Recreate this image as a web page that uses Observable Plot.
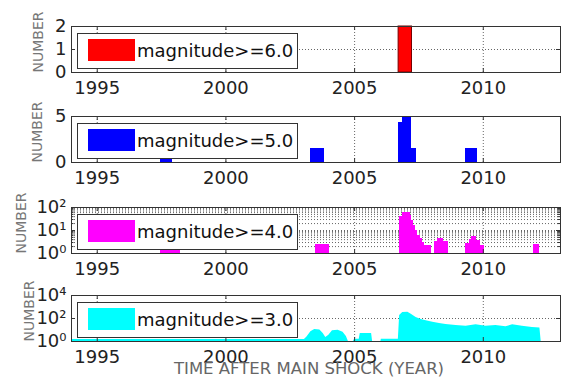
<!DOCTYPE html>
<html><head><meta charset="utf-8">
<script src="https://cdn.jsdelivr.net/npm/d3@7"></script>
<script src="https://cdn.jsdelivr.net/npm/@observablehq/plot@0.6"></script>
<style>
html,body{margin:0;padding:0;background:#fff;}
#chart{position:relative;width:568px;height:378px;overflow:hidden;background:#fff;font-family:"DejaVu Sans",sans-serif;}
.panel{position:absolute;left:0;width:568px;}
.panel svg{position:absolute;left:0;top:0;overflow:visible;}
.legend{position:absolute;left:77px;width:221px;height:36px;background:#fff;border:1px solid #333;box-sizing:border-box;}
.swatch{position:absolute;left:10px;top:5px;width:47px;height:22px;}
.ltext{position:absolute;left:59px;top:8px;font-size:18px;line-height:1;color:#111;white-space:nowrap;}
.ylabel{position:absolute;font-size:14px;line-height:1;color:#777;white-space:nowrap;transform:translate(-50%,-50%) rotate(-90deg);}
.xtitle{position:absolute;left:309px;top:361px;font-size:16.5px;line-height:1;color:#666;white-space:nowrap;transform:translateX(-50%);}
</style>
</head><body>
<div id="chart"></div>
<script>
// ---- axes ----
const xDomain = [1994, 2013];
const xTicks = [1995, 2000, 2005, 2010];
const logTickValues = [1, 10, 100, 10000];
const logTickLabels = ["10⁰", "10¹", "10²", "10⁴"];

// ---- magnitude >= 6.0 (bars: start year, end year, number) ----
const m6Start = [2006.71];
const m6End   = [2007.23];
const m6Count = [2];

// ---- magnitude >= 5.0 ----
const m5Start = [1997.46, 2003.30, 2006.71, 2006.87, 2007.23, 2009.29];
const m5End   = [1997.94, 2003.82, 2006.87, 2007.23, 2007.39, 2009.78];
const m5Count = [1.5, 1.5, 4.3, 5, 1.5, 1.5];

// ---- magnitude >= 4.0 ----
const m4Start = [1997.46, 2003.49, 2006.75, 2006.87, 2007.16, 2007.22, 2007.29, 2007.37, 2007.46, 2007.56, 2007.65, 2007.72,
                 2008.10, 2008.22, 2008.45, 2009.29, 2009.46, 2009.56, 2009.74, 2009.91, 2011.97];
const m4End   = [1998.25, 2004.01, 2006.87, 2007.16, 2007.22, 2007.29, 2007.37, 2007.46, 2007.56, 2007.65, 2007.72, 2007.97,
                 2008.22, 2008.45, 2008.66, 2009.46, 2009.56, 2009.74, 2009.91, 2010.04, 2012.20];
const m4Count = [2, 2.5, 39, 59, 46, 28, 17, 10, 6.2, 4.5, 2.9, 2.3,
                 3.2, 4.5, 3.2, 2.7, 4, 5.6, 3.8, 2.3, 2.5];

// ---- magnitude >= 3.0 (time, number) ----
const m3Time  = [1994.00, 2003.05, 2003.15, 2003.30, 2003.45, 2003.65, 2003.78, 2003.88, 2004.00, 2004.14, 2004.36, 2004.55,
                 2004.68, 2004.76, 2004.95, 2005.00, 2005.18, 2005.22, 2005.66, 2005.70, 2006.02, 2006.04, 2006.70, 2006.75,
                 2006.87, 2007.07, 2007.20, 2007.39, 2007.59, 2007.78, 2008.04, 2008.30, 2008.55, 2008.94, 2009.33, 2009.72,
                 2010.10, 2010.49, 2010.88, 2011.14, 2011.52, 2011.91, 2012.20, 2012.25];
const m3Count = [1.5, 1.5, 2.5, 7, 11, 10, 5, 2.2, 3.5, 8.5, 9.5, 6.5,
                 2.7, 1, 1, 1.6, 1.6, 5, 5, 1, 1, 1.6, 1.6, 180,
                 330, 350, 240, 122, 82, 63, 48, 37, 30, 25, 21, 28,
                 21, 25, 19, 28, 21, 16.5, 15, 1];

const legendLabels = ["magnitude>=6.0", "magnitude>=5.0", "magnitude>=4.0", "magnitude>=3.0"];
const seriesColors = ["#ff0000", "#0000ff", "#ff00ff", "#00ffff"];
const yLabel = "NUMBER";
const xLabel = "TIME AFTER MAIN SHOCK (YEAR)";

const bars = (s, e, c) => s.map((d, i) => ({a: s[i], b: e[i], n: c[i]}));
const pts = (t, c) => t.map((d, i) => ({t: t[i], n: c[i]}));

const chart = document.getElementById("chart");
const H = 46, MT = 14, MB = 30, ML = 71, MR = 8, W = 568;
const innerW = W - ML - MR;
const dot = {stroke: "#666", strokeDasharray: "1,2", strokeWidth: 1};
const axisStroke = "#333";

function panel(top, cfg, idx, ylabelX) {
  const yTicks = cfg.yTicks;
  const marks = [
    Plot.ruleY(cfg.gridY, dot),
    Plot.ruleX(xTicks, dot),
    ...cfg.data,
    Plot.tickX(xTicks, {x: d => d, insetTop: H - 4, stroke: axisStroke}),
    Plot.tickX(xTicks, {x: d => d, insetBottom: H - 4, stroke: axisStroke}),
    Plot.tickY(yTicks, {y: d => d, insetRight: innerW - 4, stroke: axisStroke}),
    Plot.tickY(yTicks, {y: d => d, insetLeft: innerW - 4, stroke: axisStroke}),
  ];
  if (cfg.minorY) {
    marks.push(Plot.tickY(cfg.minorY, {y: d => d, insetRight: innerW - 2.5, stroke: axisStroke}));
    marks.push(Plot.tickY(cfg.minorY, {y: d => d, insetLeft: innerW - 2.5, stroke: axisStroke}));
  }
  marks.push(Plot.frame({stroke: axisStroke}));
  const svg = Plot.plot({
    width: W, height: H + MT + MB,
    marginLeft: ML, marginRight: MR, marginTop: MT, marginBottom: MB,
    style: {fontFamily: "DejaVu Sans, sans-serif", fontSize: "18px", color: "#222", background: "transparent", overflow: "visible"},
    x: {domain: xDomain, ticks: xTicks, tickFormat: d => String(d), tickSize: 0, tickPadding: 9, label: null},
    y: {type: cfg.yType, domain: cfg.yDomain, ticks: yTicks, tickFormat: cfg.tickFormat, tickSize: 0, tickPadding: 5, label: null},
    marks
  });
  const div = document.createElement("div");
  div.className = "panel";
  div.style.top = (top - MT) + "px";
  div.style.height = (H + MT + MB) + "px";
  div.appendChild(svg);
  const lg = document.createElement("div");
  lg.className = "legend";
  lg.style.top = (MT + 7) + "px";
  const sw = document.createElement("div");
  sw.className = "swatch";
  sw.style.background = seriesColors[idx];
  const tx = document.createElement("div");
  tx.className = "ltext";
  tx.textContent = legendLabels[idx];
  lg.appendChild(sw); lg.appendChild(tx);
  div.appendChild(lg);
  chart.appendChild(div);
  const yl = document.createElement("div");
  yl.className = "ylabel";
  yl.textContent = yLabel;
  yl.style.left = ylabelX + "px";
  yl.style.top = (top + H / 2 - 7) + "px";
  chart.appendChild(yl);
}

const logFmt = d => logTickLabels[logTickValues.indexOf(d)];
const minor4 = [2,3,4,5,6,7,8,9,20,30,40,50,60,70,80,90];

panel(26, {
  yType: "linear", yDomain: [0, 2], yTicks: [0, 1, 2], gridY: [1], tickFormat: d => String(d),
  data: [Plot.rect(bars(m6Start, m6End, m6Count), {x1: "a", x2: "b", y1: 0, y2: "n", fill: seriesColors[0], stroke: "#700", strokeWidth: 1})]
}, 0, 38);

panel(116, {
  yType: "linear", yDomain: [0, 5], yTicks: [0, 5], gridY: [], tickFormat: d => String(d),
  data: [Plot.rect(bars(m5Start, m5End, m5Count), {x1: "a", x2: "b", y1: 0, y2: "n", fill: seriesColors[1], shapeRendering: "crispEdges"})]
}, 1, 37);

panel(207, {
  yType: "log", yDomain: [1, 100], yTicks: [1, 10, 100], gridY: [10, ...minor4], minorY: minor4, tickFormat: logFmt,
  data: [Plot.rect(bars(m4Start, m4End, m4Count), {x1: "a", x2: "b", y1: 1, y2: "n", fill: seriesColors[2], shapeRendering: "crispEdges"})]
}, 2, 21);

panel(295, {
  yType: "log", yDomain: [1, 10000], yTicks: [1, 100, 10000], gridY: [100], tickFormat: logFmt,
  data: [Plot.area(pts(m3Time, m3Count), {x1: "t", y1: 1, y2: "n", fill: seriesColors[3]})]
}, 3, 29);

const xt = document.createElement("div");
xt.className = "xtitle";
xt.textContent = xLabel;
chart.appendChild(xt);
</script>
</body></html>
